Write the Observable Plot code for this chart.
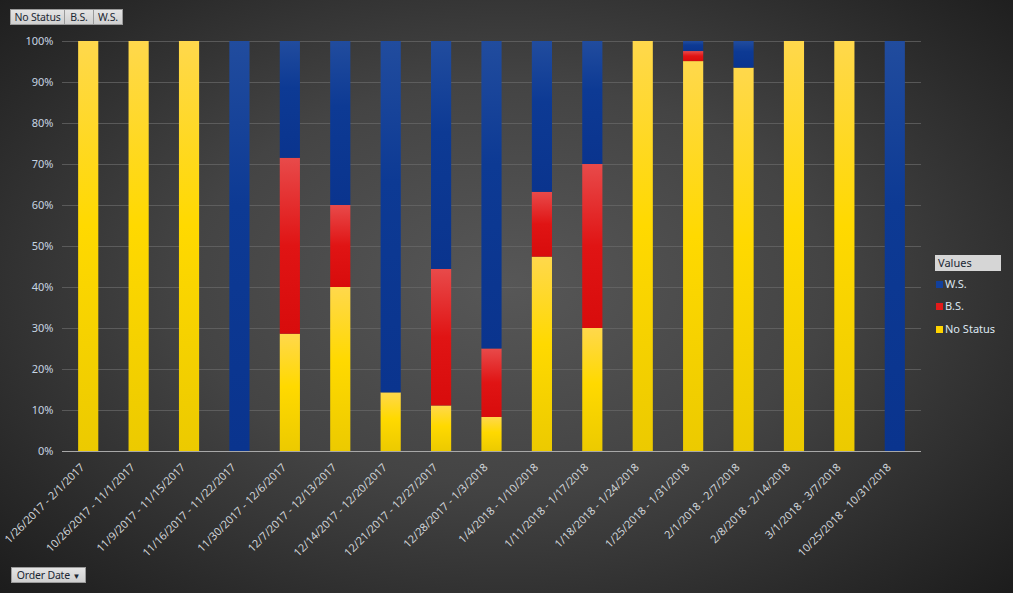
<!DOCTYPE html>
<html>
<head>
<meta charset="utf-8">
<script src="https://cdn.jsdelivr.net/npm/d3@7"></script>
<script src="https://cdn.jsdelivr.net/npm/@observablehq/plot@0.6"></script>
<style>
  html, body { margin: 0; padding: 0; }
  body {
    width: 1013px; height: 593px; overflow: hidden; position: relative;
    background: radial-gradient(ellipse 70% 75% at 50% 48%, #575757 0%, #444 45%, #2a2a2a 80%, #1c1c1c 100%);
    font-family: "Noto Sans", "Open Sans", sans-serif;
  }
  #chart { position: absolute; left: 0; top: 0; }
  .btn {
    position: absolute; height: 16px; line-height: 15px; font-size: 10.5px; color: #1b2733;
    background: linear-gradient(#e4e4e4, #cfcfcf); border: 1px solid #9a9a9a; box-sizing: border-box;
    padding: 0; text-align: center; white-space: nowrap; letter-spacing: -0.2px;
  }
  #legend { position: absolute; left: 935px; top: 255px; font-size: 11px; color: #dde6f0; }
  #legend .hdr { width: 66px; height: 16px; line-height: 16px; background: #d6d6d6; color: #1b2733; padding-left: 3px; box-sizing: border-box; font-size: 11px; }
  #legend .item { position: absolute; left: 1px; white-space: nowrap; }
  #legend .sw { display: inline-block; width: 7px; height: 7px; margin-right: 2px; vertical-align: 0px; }
</style>
</head>
<body>
<div id="chart"></div>
<div class="btn" style="left:10px; top:9px; width:55px;">No Status</div>
<div class="btn" style="left:64px; top:9px; width:30px;">B.S.</div>
<div class="btn" style="left:93px; top:9px; width:30px;">W.S.</div>
<div class="btn" style="left:11px; top:567px; width:75px;">Order Date <span style="font-size:8px;">&#9660;</span></div>
<div id="legend">
  <div class="hdr">Values</div>
  <div class="item" style="top:21px;"><span class="sw" style="background:#12409c"></span>W.S.</div>
  <div class="item" style="top:43px;"><span class="sw" style="background:#e21a1a"></span>B.S.</div>
  <div class="item" style="top:66px;"><span class="sw" style="background:#ffd400"></span>No Status</div>
</div>
<script>
const categories = [
  "1/26/2017 - 2/1/2017", "10/26/2017 - 11/1/2017", "11/9/2017 - 11/15/2017",
  "11/16/2017 - 11/22/2017", "11/30/2017 - 12/6/2017", "12/7/2017 - 12/13/2017",
  "12/14/2017 - 12/20/2017", "12/21/2017 - 12/27/2017", "12/28/2017 - 1/3/2018",
  "1/4/2018 - 1/10/2018", "1/11/2018 - 1/17/2018", "1/18/2018 - 1/24/2018",
  "1/25/2018 - 1/31/2018", "2/1/2018 - 2/7/2018", "2/8/2018 - 2/14/2018",
  "3/1/2018 - 3/7/2018", "10/25/2018 - 10/31/2018"
];
const series = ["No Status", "B.S.", "W.S."];
const noStatus = [100, 100, 100, 0, 28.6, 40, 14.3, 11.1, 8.3, 47.4, 30, 100, 95.1, 93.5, 100, 100, 0];
const bs       = [0, 0, 0, 0, 42.9, 20, 0, 33.3, 16.7, 15.8, 40, 0, 2.45, 0, 0, 0, 0];
const ws       = [0, 0, 0, 100, 28.5, 40, 85.7, 55.6, 75, 36.8, 30, 0, 2.45, 6.5, 0, 0, 100];
const yTicks = [0, 10, 20, 30, 40, 50, 60, 70, 80, 90, 100];

const seriesValues = [noStatus, bs, ws];
const data = [];
categories.forEach((c, i) => {
  series.forEach((s, j) => data.push({ date: c, status: s, value: seriesValues[j][i] }));
});

const fills = ["url(#gYellow)", "url(#gRed)", "url(#gBlue)"];

const chart = Plot.plot({
  width: 1013,
  height: 593,
  marginLeft: 62,
  marginRight: 92,
  marginTop: 41,
  marginBottom: 142,
  style: { background: "transparent", fontFamily: "'Noto Sans', sans-serif", fontSize: "11px", overflow: "visible" },
  x: { domain: categories, paddingInner: 0.6, paddingOuter: 0.32, round: false, label: null },
  y: { domain: [0, 100], label: null },
  color: { domain: series, range: fills },
  marks: [
    Plot.gridY(yTicks, { stroke: "#6a6a6a", strokeOpacity: 0.7, strokeWidth: 1 }),
    Plot.barY(data, Plot.stackY({ x: "date", y: "value", fill: "status", order: series, inset: 0 })),
    Plot.ruleY([0], { stroke: "#a8a8a8", strokeWidth: 1.2 }),
    Plot.axisY(yTicks, { tickSize: 0, tickPadding: 9, tickFormat: d => d + "%", fill: "#c6d4e2", fontSize: 11 }),
    Plot.axisX({ tickSize: 0, tickPadding: 14, tickRotate: -45, fill: "#d0d4d8", fontSize: 11, dx: -6 })
  ]
});

const ns = "http://www.w3.org/2000/svg";
const defs = document.createElementNS(ns, "defs");
function grad(id, stops) {
  const g = document.createElementNS(ns, "linearGradient");
  g.setAttribute("id", id);
  g.setAttribute("x1", "0"); g.setAttribute("y1", "0");
  g.setAttribute("x2", "0"); g.setAttribute("y2", "1");
  stops.forEach(([o, c]) => {
    const s = document.createElementNS(ns, "stop");
    s.setAttribute("offset", o); s.setAttribute("stop-color", c);
    g.appendChild(s);
  });
  defs.appendChild(g);
}
grad("gYellow", [["0", "#ffd84c"], ["0.45", "#ffd900"], ["1", "#ecca00"]]);
grad("gRed", [["0", "#e84a4a"], ["0.5", "#e01414"], ["1", "#d80c0c"]]);
grad("gBlue", [["0", "#214c9e"], ["0.4", "#0d3a94"], ["1", "#0a348e"]]);
chart.insertBefore(defs, chart.firstChild);
document.getElementById("chart").appendChild(chart);
</script>
</body>
</html>
